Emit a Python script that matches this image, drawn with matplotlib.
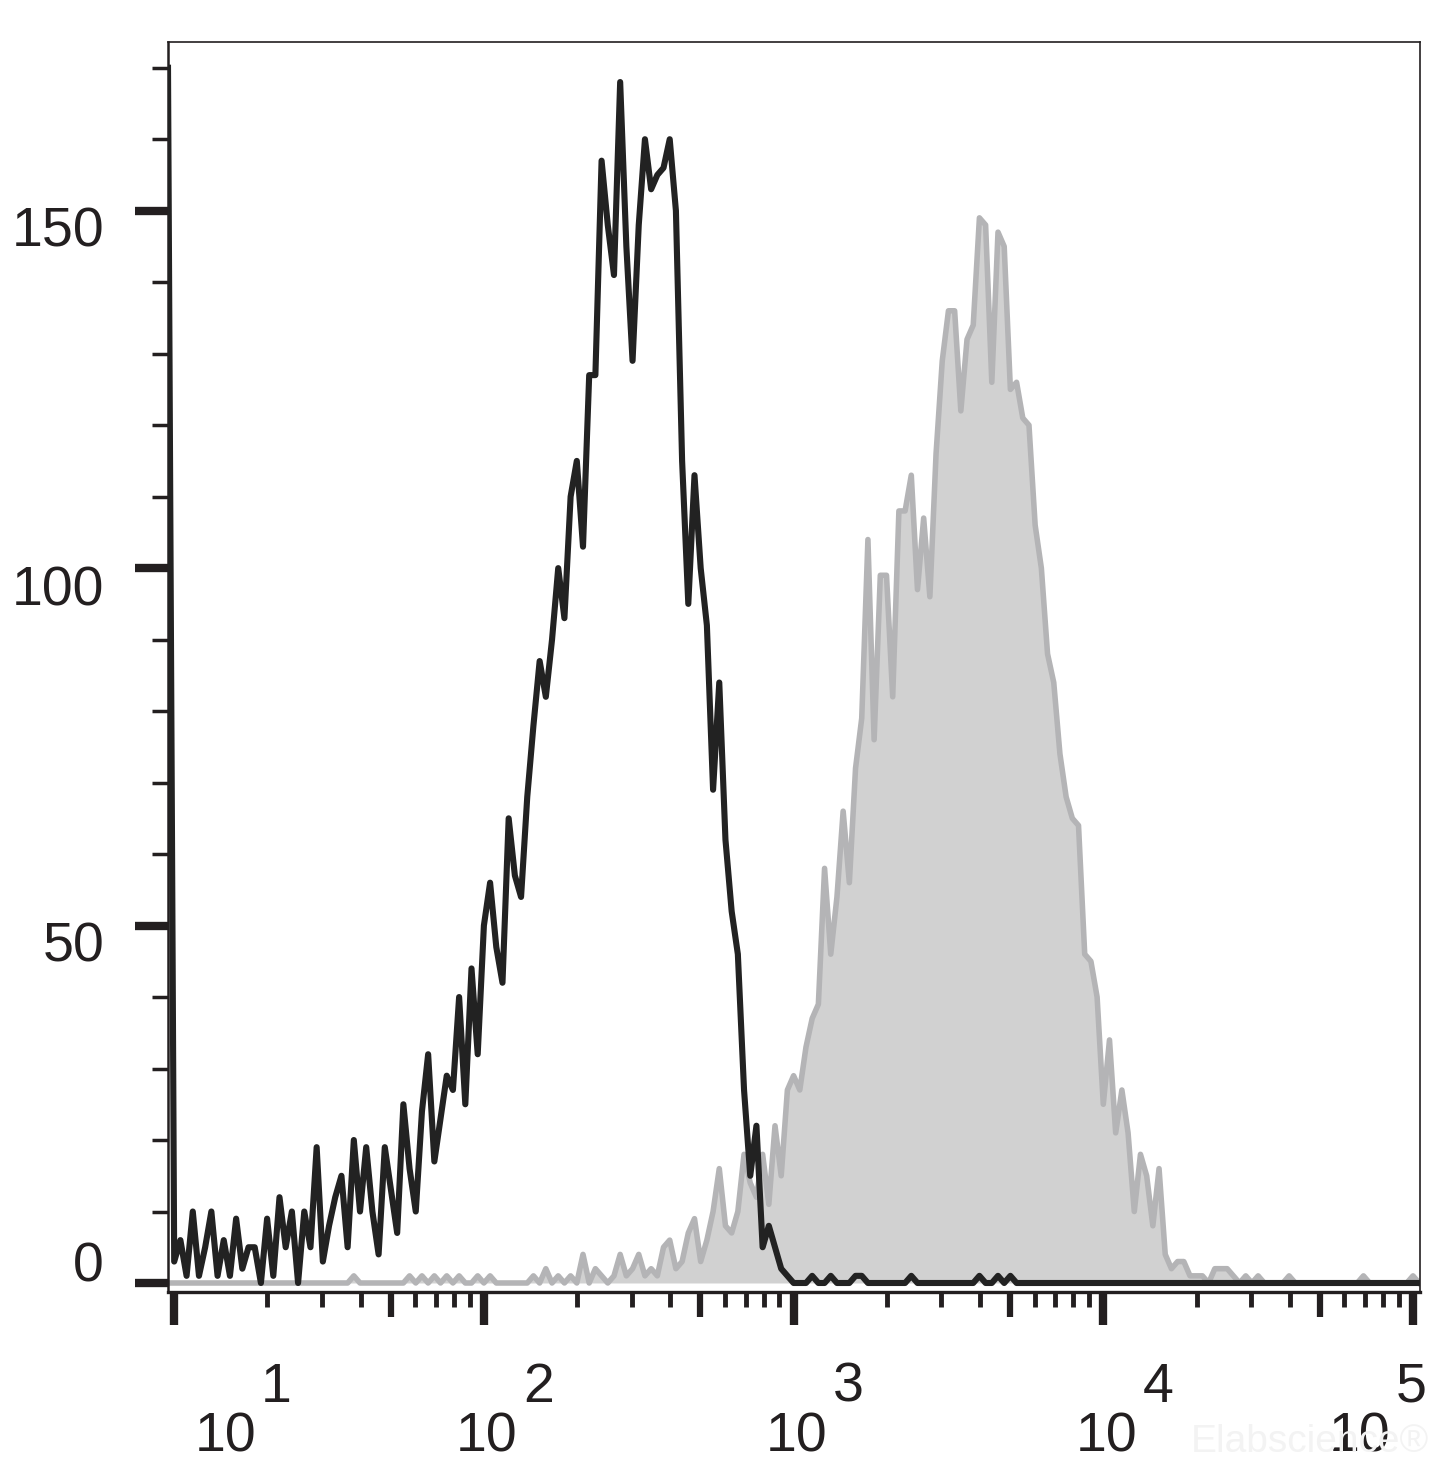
import numpy as np
import matplotlib.pyplot as plt
from matplotlib.ticker import FixedLocator, MultipleLocator, NullFormatter, NullLocator

plt.rcParams['font.family'] = ['Liberation Sans', 'DejaVu Sans']

# histogram channels: log10 fluorescence, 0.02 decade per channel
log_start = 0.98
log_step = 0.02

# control (black line), counts per channel
black_counts = [
    170,
    3, 6, 1, 10, 1, 5, 10, 1, 6, 1,
    9, 2, 5, 5, 0, 9, 1, 12, 5, 10,
    0, 10, 5, 19, 3, 8, 12, 15, 5, 20,
    10, 19, 10, 4, 19, 13, 7, 25, 16, 10,
    24, 32, 17, 23, 29, 27, 40, 25, 44, 32,
    50, 56, 47, 42, 65, 57, 54, 68, 78, 87,
    82, 90, 100, 93, 110, 115, 103, 127, 127, 157,
    148, 141, 168, 145, 129, 148, 160, 153, 155, 156,
    160, 150, 115, 95, 113, 100, 92, 69, 84, 62,
    52, 46, 27, 15, 22, 5, 8, 5, 2, 1,
    0,
    0, 0, 1, 0, 0, 1, 0, 0, 0, 1,
    1, 0, 0, 0, 0, 0, 0, 0, 1, 0,
    0, 0, 0, 0, 0, 0, 0, 0, 0, 1,
    0, 0, 1, 0, 1, 0, 0, 0, 0, 0,
    0, 0, 0, 0, 0, 0, 0, 0, 0, 0,
    0, 0, 0, 0, 0, 0, 0, 0, 0, 0,
    0, 0, 0, 0, 0, 0, 0, 0, 0, 0,
    0, 0, 0, 0, 0, 0, 0, 0, 0, 0,
    0, 0, 0, 0, 0, 0, 0, 0, 0, 0,
    0, 0, 0, 0, 0, 0, 0, 0, 0, 0,
    0,
]

# stained sample (grey filled), counts per channel
grey_counts = [
    0,
    0, 0, 0, 0, 0, 0, 0, 0, 0, 0,
    0, 0, 0, 0, 0, 0, 0, 0, 0, 0,
    0, 0, 0, 0, 0, 0, 0, 0, 0, 1,
    0, 0, 0, 0, 0, 0, 0, 0, 1, 0,
    1, 0, 1, 0, 1, 0, 1, 0, 0, 1,
    0, 1, 0, 0, 0, 0, 0, 0, 1, 0,
    2, 0, 1, 0, 1, 0, 4, 0, 2, 1,
    0, 1, 4, 1, 2, 4, 1, 2, 1, 5,
    6, 2, 3, 7, 9, 3, 6, 10, 16, 8,
    7, 10, 18, 14, 12, 18, 11, 22, 15, 27,
    29, 27, 33, 37, 39, 58, 46, 54, 66, 56,
    72, 79, 104, 76, 99, 99, 82, 108, 108, 113,
    97, 107, 96, 116, 129, 136, 136, 122, 132, 134,
    149, 148, 126, 147, 145, 125, 126, 121, 120, 106,
    100, 88, 84, 74, 68, 65, 64, 46, 45, 40,
    25, 34, 21, 27, 21, 10, 18, 15, 8, 16,
    4, 2, 3, 3, 1, 1, 1, 0, 2, 2,
    2, 1, 0, 1, 0, 1, 0, 0, 0, 0,
    1, 0, 0, 0, 0, 0, 0, 0, 0, 0,
    0, 0, 1, 0, 0, 0, 0, 0, 0, 0,
    1, 0,
]

x_major = [1e1, 1e2, 1e3, 1e4, 1e5]
x_exponents = ['1', '2', '3', '4', '5']
x_label_shift = [51, 3, 3, 3, -53]        # px, labels are not centred on ticks
x_mid = [5e1, 5e2, 5e3, 5e4]
y_major = [0, 50, 100, 150]
y_labels = ['0', '50', '100', '150']
y_label_shift = [15, -22, -23, -22]       # px

dark = '#231f20'
px = 0.72  # points per pixel at dpi 100

channels = log_start + log_step * np.arange(len(black_counts))
fluor = 10 ** channels

fig = plt.figure(figsize=(14.45, 14.78), dpi=100)
ax = fig.add_axes([168 / 1445, 186 / 1478, 1252 / 1445, 1250 / 1478])

ax.fill_between(fluor, 0, grey_counts, color='#d1d1d1', lw=0, zorder=1)
ax.plot(fluor, grey_counts, color='#b4b4b6', lw=4.0, zorder=2)
ax.plot(fluor, black_counts, color='#222222', lw=4.4, zorder=3)

ax.set_xscale('log')
ax.set_xlim(10 ** 0.98, 10 ** 5.0226)
ax.set_ylim(-1.26, 173.6)

ax.xaxis.set_major_locator(FixedLocator(x_major))
minor = [m * 10 ** e for e in range(1, 5) for m in (2, 3, 4, 6, 7, 8, 9)]
ax.xaxis.set_minor_locator(FixedLocator(minor))
ax.xaxis.set_major_formatter(NullFormatter())
ax.xaxis.set_minor_formatter(NullFormatter())
ax.yaxis.set_major_locator(FixedLocator(y_major))
ax.yaxis.set_minor_locator(MultipleLocator(10))
ax.yaxis.set_major_formatter(NullFormatter())

ax.tick_params(axis='x', which='major', direction='out', length=24, width=6, color=dark)
ax.tick_params(axis='x', which='minor', direction='out', length=11, width=3.5, color=dark)
ax.tick_params(axis='y', which='major', direction='out', length=24, width=6, color=dark)
ax.tick_params(axis='y', which='minor', direction='out', length=11.5, width=2.5, color=dark)

# mid-decade ticks are a bit longer
sec = ax.secondary_xaxis('bottom')
sec.set_xticks(x_mid)
sec.xaxis.set_minor_locator(NullLocator())
sec.xaxis.set_major_formatter(NullFormatter())
sec.tick_params(axis='x', direction='out', length=18, width=4.5, color=dark)
sec.spines['bottom'].set_visible(False)

for side in ['top', 'right']:
    ax.spines[side].set_linewidth(1.2)
    ax.spines[side].set_color(dark)
ax.spines['left'].set_linewidth(1.8)
ax.spines['left'].set_color(dark)
ax.spines['bottom'].set_linewidth(2.4)
ax.spines['bottom'].set_color(dark)

for val, lab, dy in zip(y_major, y_labels, y_label_shift):
    ax.annotate(lab, xy=(0, val), xycoords=('axes fraction', 'data'),
                xytext=(-64 * px, dy * px), textcoords='offset points',
                ha='right', va='center', fontsize=40, color=dark)

for val, ex, dx in zip(x_major, x_exponents, x_label_shift):
    ax.annotate('10', xy=(val, 0), xycoords=('data', 'axes fraction'),
                xytext=(dx * px, -146 * px), textcoords='offset points',
                ha='center', va='center', fontsize=40, color=dark)
    ax.annotate(ex, xy=(val, 0), xycoords=('data', 'axes fraction'),
                xytext=((dx + 36) * px, -96 * px), textcoords='offset points',
                ha='left', va='center', fontsize=40, color=dark)

# faint watermark, sits behind the 10^5 label as in the source
fig.text(1310 / 1445, 1 - 1442 / 1478, 'Elabscience\u00ae', color='#f3f3f3',
         fontsize=28, ha='center', va='center', zorder=0)

fig.savefig('out.png', dpi=100)
